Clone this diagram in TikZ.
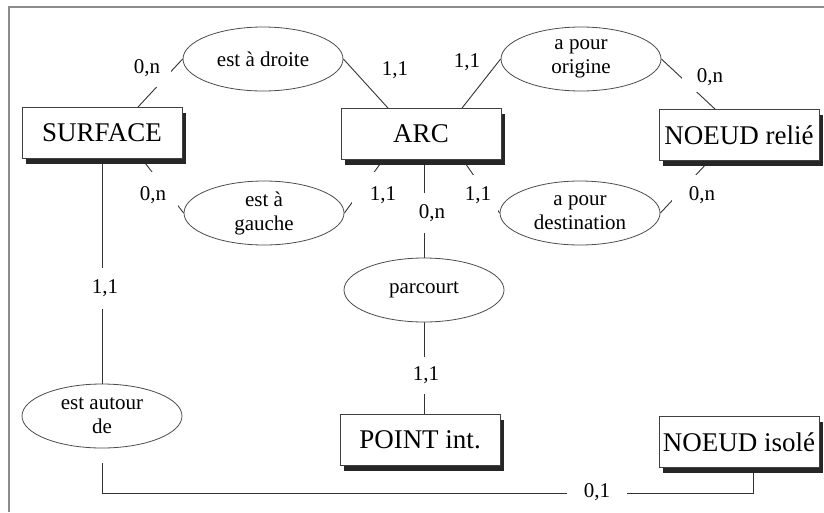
\documentclass[tikz,border=0pt]{standalone}
\usepackage{fontspec}
\setmainfont{Liberation Serif}
\usetikzlibrary{backgrounds}
\usetikzlibrary{shapes.geometric,shadows}

\begin{document}
\begin{tikzpicture}[x=1pt,y=-1pt,
entity/.style={draw=black!75,line width=0.9pt,fill=white,minimum width=160pt,minimum height=51pt,inner sep=0pt,
  font=\fontsize{27}{30}\selectfont,drop shadow={shadow xshift=4pt,shadow yshift=-5pt,fill=black!85,opacity=1}},
assoc/.style={ellipse,draw=black!70,line width=0.8pt,fill=white,minimum width=160pt,minimum height=64pt,inner sep=0pt,
  align=center,font=\fontsize{21}{24}\selectfont},
link/.style={black!80,line width=0.9pt},
card/.style 2 args={fill=white,inner sep=0pt,minimum width=#1,minimum height=#2,font=\fontsize{21}{24}\selectfont}]
\useasboundingbox (0,0) rectangle (824,512);
\draw[black!45,line width=1.8pt] (9,512) -- (9,7) -- (824,7);

\node[entity] (surface) at (102,133) {SURFACE};
\node[entity] (arc) at (421,134) {ARC};
\node[entity] (relie) at (739,135) {NOEUD relié};
\node[entity] (point) at (420,440) {POINT int.};
\node[entity] (isole) at (739,442) {NOEUD isolé};

\node[assoc] (droite) at (263,59) {est à droite};
\node[assoc] (origine) at (581,59) {a pour\\origine};
\node[assoc] (gauche) at (264,213) {est à\\gauche};
\node[assoc] (destination) at (580,213) {a pour\\destination};
\node[assoc] (parcourt) at (424,290) {parcourt};
\node[assoc] (autour) at (102,416) {est autour\\de};

\begin{pgfonlayer}{background}
\draw[link] ([xshift=36pt]surface.north) -- (droite.west);
\draw[link] (droite.east) -- ([xshift=-33pt]arc.north);
\draw[link] ([xshift=41pt]arc.north) -- (origine.west);
\draw[link] (origine.east) -- ([xshift=-24pt]relie.north);
\draw[link] ([xshift=40pt]surface.south) -- (gauche.west);
\draw[link] (gauche.east) -- ([xshift=-38pt]arc.south);
\draw[link] ([xshift=42pt]arc.south) -- (destination.west);
\draw[link] (destination.east) -- ([xshift=-30pt]relie.south);
\draw[link] (arc.south -| parcourt.north) -- (parcourt.north);
\draw[link] (parcourt.south) -- (parcourt.south |- point.north);
\draw[link] (surface.south) -- (autour.north);
\draw[link] ([yshift=-15pt]autour.south) |- ([xshift=14pt,yshift=-25pt]isole.south) -- ([xshift=14pt]isole.south);

\node[card={48pt}{38pt}] (c1) at (147,68) {0,n};
\node[card={30pt}{20pt}] (c2) at (395,70) {1,1};
\node[card={30pt}{20pt}] (c3) at (467,62) {1,1};
\node[card={56pt}{30pt}] (c4) at (710,77) {0,n};
\node[card={50pt}{46pt}] (c5) at (153,195) {0,n};
\node[card={62pt}{46pt}] (c6) at (383,195) {1,1};
\node[card={40pt}{40pt}] (c7) at (478,195) {1,1};
\node[card={60pt}{40pt}] (c8) at (702,195) {0,n};
\node[card={30pt}{40pt}] (c9) at (432,213) {0,n};
\node[card={30pt}{37pt}] (c10) at (426,375) {1,1};
\node[card={30pt}{41pt}] (c11) at (105,288) {1,1};
\node[card={60pt}{20pt}] (c12) at (597,492) {0,1};
\end{pgfonlayer}
\end{tikzpicture}
\end{document}
